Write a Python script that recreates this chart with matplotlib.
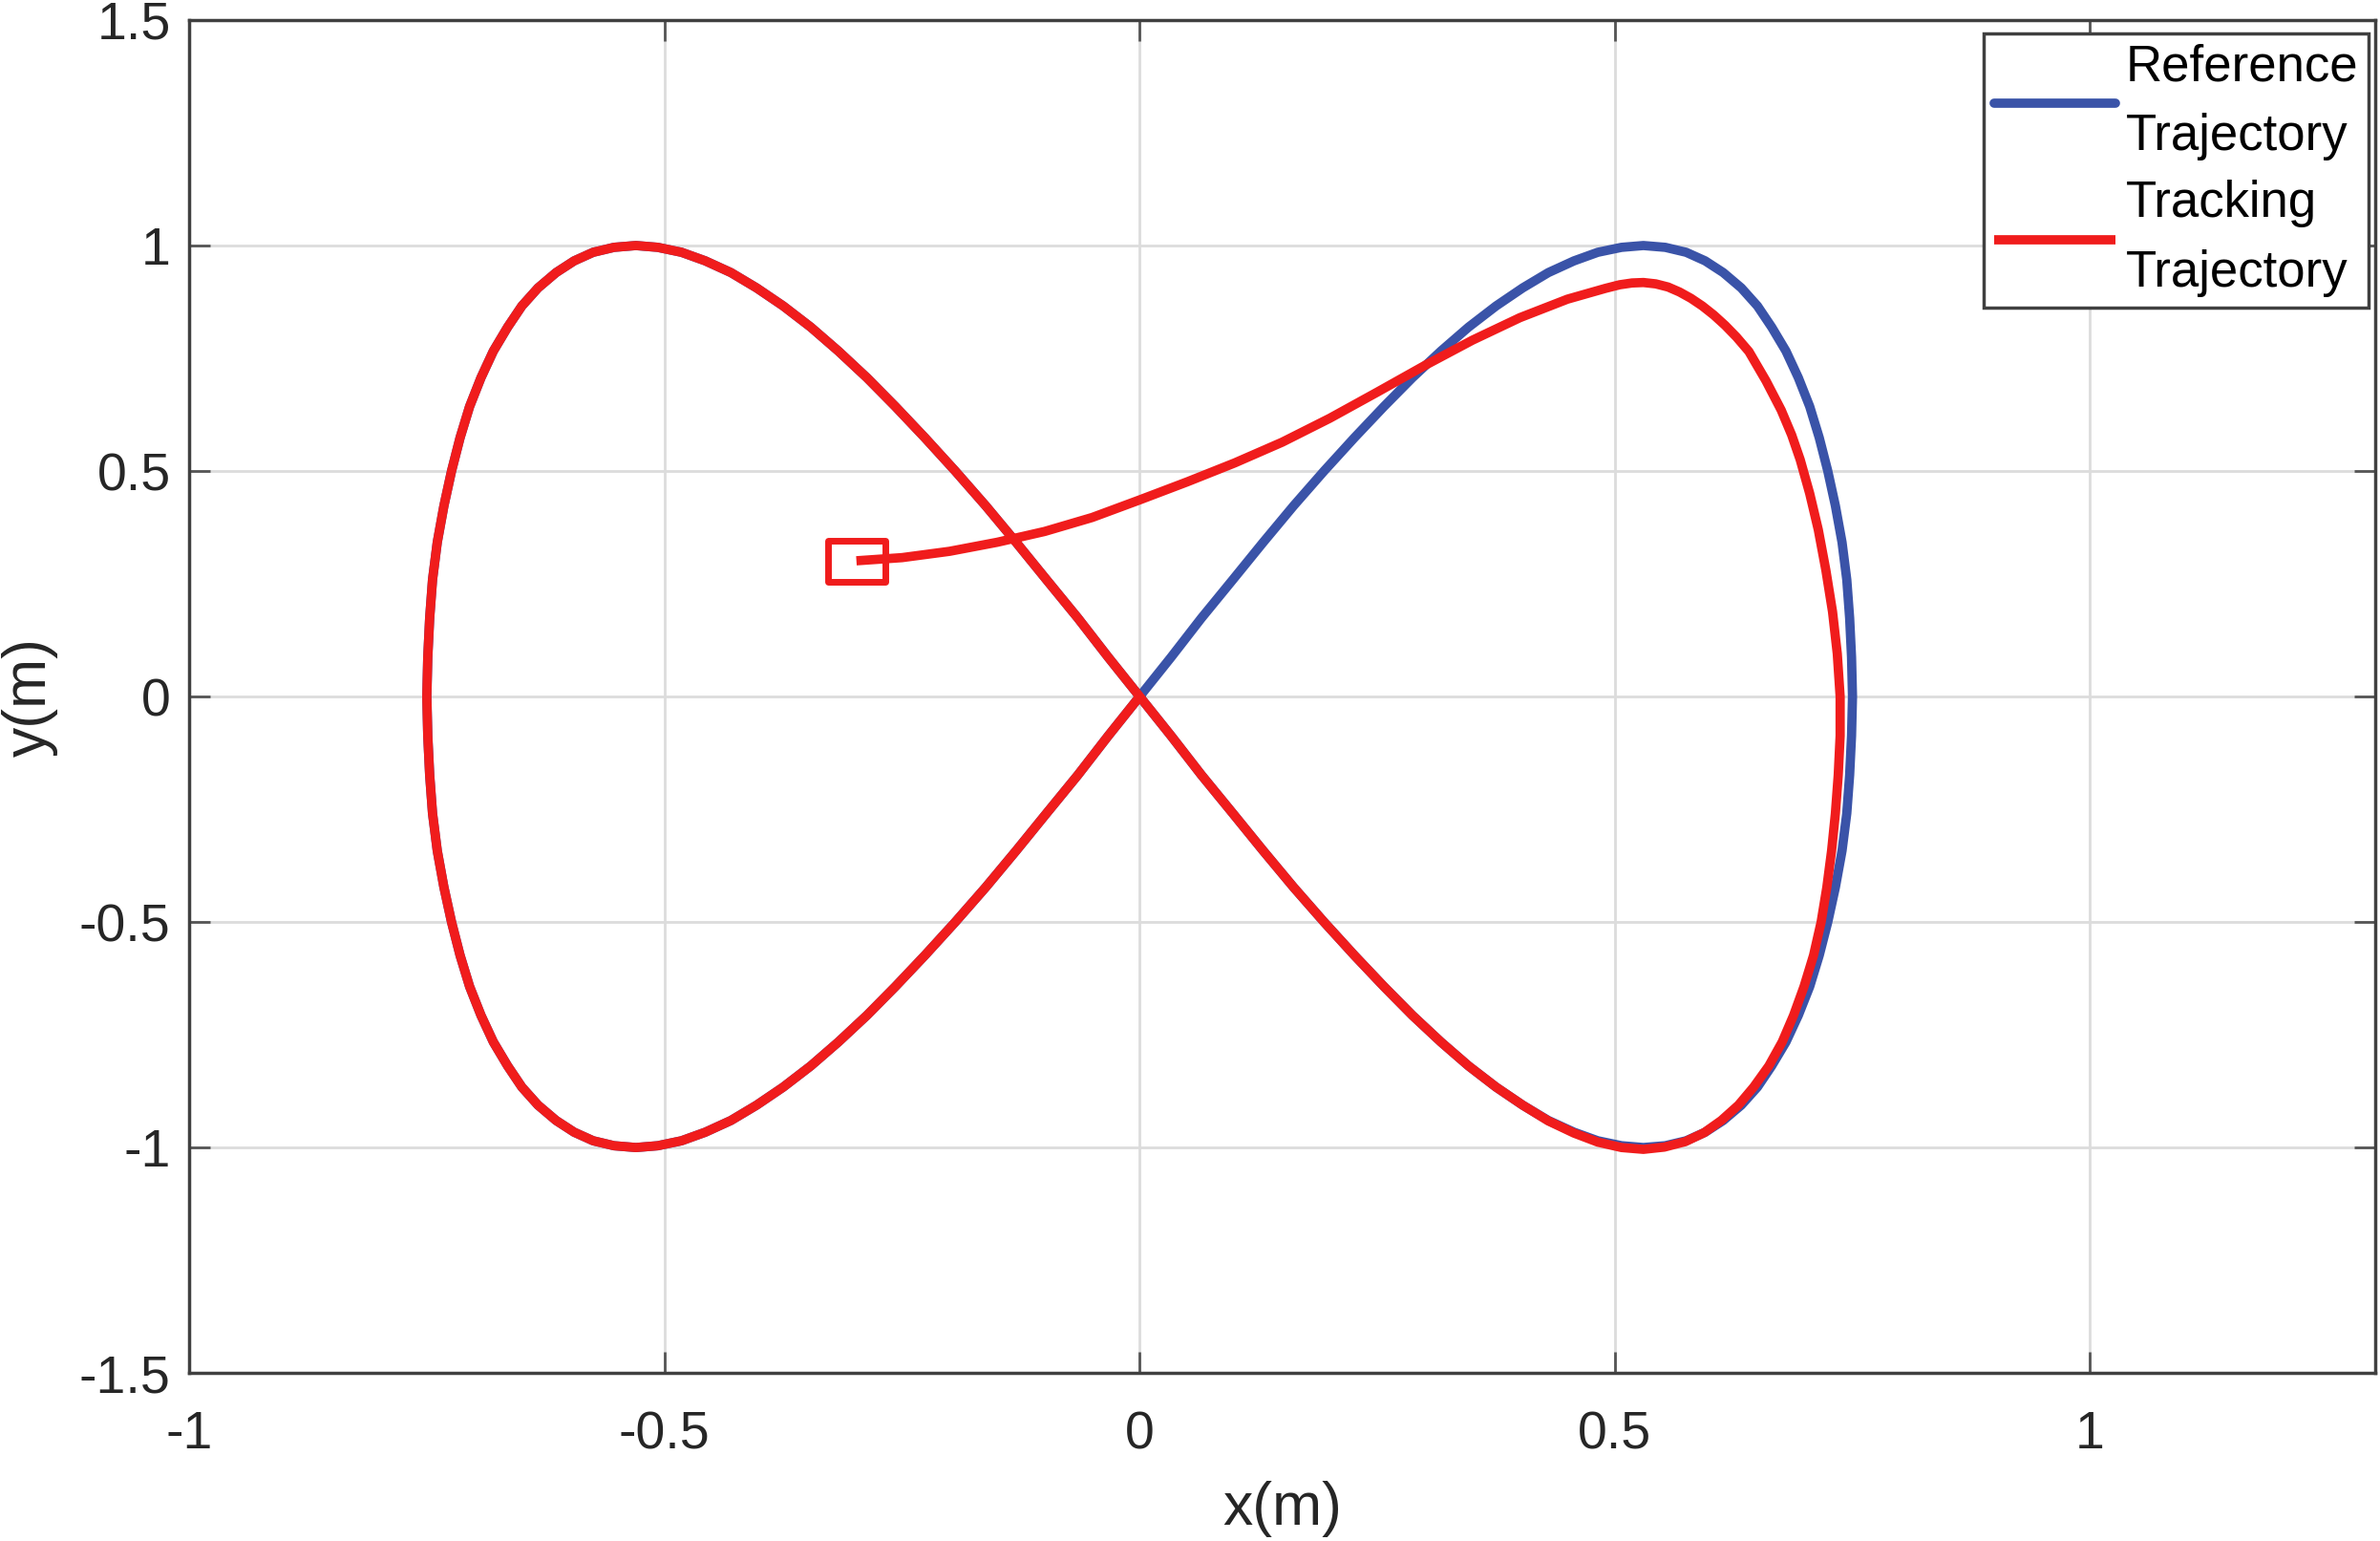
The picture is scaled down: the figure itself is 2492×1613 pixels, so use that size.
#!/usr/bin/env python3
"""figure_eight_tracking.py"""

import matplotlib.pyplot as plt
from matplotlib.path import Path
from matplotlib.ticker import FixedLocator

# Reference figure-eight (metres)
ref_x = [
    0.000, 0.033, 0.065, 0.098, 0.130, 0.162, 0.194, 0.226, 0.257, 0.287,
    0.317, 0.346, 0.375, 0.403, 0.430, 0.457, 0.482, 0.507, 0.530, 0.553,
    0.575, 0.595, 0.614, 0.633, 0.650, 0.665, 0.680, 0.693, 0.705, 0.715,
    0.724, 0.732, 0.739, 0.744, 0.747, 0.749, 0.750,
    0.749, 0.747, 0.744, 0.739, 0.732, 0.724, 0.715, 0.705, 0.693, 0.680,
    0.665, 0.650, 0.633, 0.614, 0.595, 0.575, 0.553, 0.530, 0.507, 0.482,
    0.457, 0.430, 0.403, 0.375, 0.346, 0.317, 0.287, 0.257, 0.226, 0.194,
    0.162, 0.130, 0.098, 0.065, 0.033, 0.000,
    -0.033, -0.065, -0.098, -0.130, -0.162, -0.194, -0.226, -0.257, -0.287,
    -0.317, -0.346, -0.375, -0.403, -0.430, -0.457, -0.482, -0.507, -0.530,
    -0.553, -0.575, -0.595, -0.614, -0.633, -0.650, -0.665, -0.680, -0.693,
    -0.705, -0.715, -0.724, -0.732, -0.739, -0.744, -0.747, -0.749, -0.750,
    -0.749, -0.747, -0.744, -0.739, -0.732, -0.724, -0.715, -0.705, -0.693,
    -0.680, -0.665, -0.650, -0.633, -0.614, -0.595, -0.575, -0.553, -0.530,
    -0.507, -0.482, -0.457, -0.430, -0.403, -0.375, -0.346, -0.317, -0.287,
    -0.257, -0.226, -0.194, -0.162, -0.130, -0.098, -0.065, -0.033, 0.000]
ref_y = [
    0.000, 0.087, 0.174, 0.259, 0.342, 0.423, 0.500, 0.574, 0.643, 0.707,
    0.766, 0.819, 0.866, 0.906, 0.940, 0.966, 0.985, 0.996, 1.000, 0.996,
    0.985, 0.966, 0.940, 0.906, 0.866, 0.819, 0.766, 0.707, 0.643, 0.574,
    0.500, 0.423, 0.342, 0.259, 0.174, 0.087, 0.000,
    -0.087, -0.174, -0.259, -0.342, -0.423, -0.500, -0.574, -0.643, -0.707,
    -0.766, -0.819, -0.866, -0.906, -0.940, -0.966, -0.985, -0.996, -1.000,
    -0.996, -0.985, -0.966, -0.940, -0.906, -0.866, -0.819, -0.766, -0.707,
    -0.643, -0.574, -0.500, -0.423, -0.342, -0.259, -0.174, -0.087, 0.000,
    0.087, 0.174, 0.259, 0.342, 0.423, 0.500, 0.574, 0.643, 0.707,
    0.766, 0.819, 0.866, 0.906, 0.940, 0.966, 0.985, 0.996, 1.000,
    0.996, 0.985, 0.966, 0.940, 0.906, 0.866, 0.819, 0.766, 0.707,
    0.643, 0.574, 0.500, 0.423, 0.342, 0.259, 0.174, 0.087, 0.000,
    -0.087, -0.174, -0.259, -0.342, -0.423, -0.500, -0.574, -0.643, -0.707,
    -0.766, -0.819, -0.866, -0.906, -0.940, -0.966, -0.985, -0.996, -1.000,
    -0.996, -0.985, -0.966, -0.940, -0.906, -0.866, -0.819, -0.766, -0.707,
    -0.643, -0.574, -0.500, -0.423, -0.342, -0.259, -0.174, -0.087, 0.000]

# Tracking trajectory, starts off the path at (-0.3, 0.3) and converges
track_x = [
    -0.298, -0.250, -0.200, -0.150, -0.100, -0.050, 0.000, 0.050, 0.100,
    0.150, 0.200, 0.250, 0.300, 0.350, 0.400, 0.450, 0.490, 0.505, 0.518,
    0.530, 0.543, 0.556, 0.568, 0.580, 0.592, 0.604, 0.616, 0.628, 0.641,
    0.659, 0.675, 0.686, 0.695, 0.705, 0.714, 0.722, 0.729, 0.734, 0.737,
    0.737, 0.735, 0.732, 0.728, 0.723, 0.717, 0.709, 0.699, 0.688, 0.676,
    0.662, 0.646, 0.630, 0.612, 0.594, 0.574, 0.552, 0.530, 0.507, 0.482,
    0.457, 0.430, 0.403,
    0.375, 0.346, 0.317, 0.287, 0.257, 0.226, 0.194, 0.162, 0.130, 0.098,
    0.065, 0.033, 0.000,
    -0.033, -0.065, -0.098, -0.130, -0.162, -0.194, -0.226, -0.257, -0.287,
    -0.317, -0.346, -0.375, -0.403, -0.430, -0.457, -0.482, -0.507, -0.530,
    -0.553, -0.575, -0.595, -0.614, -0.633, -0.650, -0.665, -0.680, -0.693,
    -0.705, -0.715, -0.724, -0.732, -0.739, -0.744, -0.747, -0.749, -0.750,
    -0.749, -0.747, -0.744, -0.739, -0.732, -0.724, -0.715, -0.705, -0.693,
    -0.680, -0.665, -0.650, -0.633, -0.614, -0.595, -0.575, -0.553, -0.530,
    -0.507, -0.482, -0.457, -0.430, -0.403, -0.375, -0.346, -0.317, -0.287,
    -0.257, -0.226, -0.194, -0.162, -0.130, -0.098, -0.065, -0.033, 0.000]
track_y = [
    0.301, 0.308, 0.322, 0.342, 0.366, 0.397, 0.436, 0.476, 0.518,
    0.564, 0.617, 0.675, 0.734, 0.790, 0.840, 0.881, 0.905, 0.913, 0.917,
    0.918, 0.915, 0.908, 0.897, 0.883, 0.866, 0.846, 0.823, 0.797, 0.765,
    0.700, 0.635, 0.580, 0.525, 0.450, 0.370, 0.280, 0.188, 0.095, 0.000,
    -0.087, -0.174, -0.259, -0.342, -0.423, -0.500, -0.574, -0.643, -0.707,
    -0.766, -0.819, -0.866, -0.906, -0.940, -0.967, -0.987, -0.999, -1.004,
    -1.000, -0.988, -0.968, -0.941, -0.906,
    -0.866, -0.819, -0.766, -0.707, -0.643, -0.574, -0.500, -0.423, -0.342,
    -0.259, -0.174, -0.087, 0.000,
    0.087, 0.174, 0.259, 0.342, 0.423, 0.500, 0.574, 0.643, 0.707,
    0.766, 0.819, 0.866, 0.906, 0.940, 0.966, 0.985, 0.996, 1.000,
    0.996, 0.985, 0.966, 0.940, 0.906, 0.866, 0.819, 0.766, 0.707,
    0.643, 0.574, 0.500, 0.423, 0.342, 0.259, 0.174, 0.087, 0.000,
    -0.087, -0.174, -0.259, -0.342, -0.423, -0.500, -0.574, -0.643, -0.707,
    -0.766, -0.819, -0.866, -0.906, -0.940, -0.966, -0.985, -0.996, -1.000,
    -0.996, -0.985, -0.966, -0.940, -0.906, -0.866, -0.819, -0.766, -0.707,
    -0.643, -0.574, -0.500, -0.423, -0.342, -0.259, -0.174, -0.087, 0.000]

x_ticks = [-1, -0.5, 0, 0.5, 1]
x_tick_labels = ["-1", "-0.5", "0", "0.5", "1"]
y_ticks = [-1.5, -1, -0.5, 0, 0.5, 1, 1.5]
y_tick_labels = ["-1.5", "-1", "-0.5", "0", "0.5", "1", "1.5"]
series_labels = ["Reference\nTrajectory", "Tracking\nTrajectory"]


def plot(ax):
    ax.plot(ref_x, ref_y, color="#3a53a8", lw=7, label=series_labels[0],
            solid_joinstyle="round", solid_capstyle="round", zorder=3)
    ax.plot(track_x, track_y, color="#f01c1c", lw=7, label=series_labels[1],
            solid_joinstyle="round", solid_capstyle="butt", zorder=4)
    # start point of the tracker, drawn as a stretched square
    rect = Path([(-1, -0.72), (1, -0.72), (1, 0.72), (-1, 0.72), (-1, -0.72)],
                [Path.MOVETO, Path.LINETO, Path.LINETO, Path.LINETO,
                 Path.CLOSEPOLY])
    ax.plot(track_x[0], track_y[0], marker=rect, ms=43, mfc="none",
            mec="#f01c1c", mew=5, ls="none", zorder=5)

    ax.set_xlim(-1, 1.3)
    ax.set_ylim(-1.5, 1.5)
    ax.xaxis.set_major_locator(FixedLocator(x_ticks))
    ax.yaxis.set_major_locator(FixedLocator(y_ticks))
    ax.set_xticklabels(x_tick_labels)
    ax.set_yticklabels(y_tick_labels)
    ax.tick_params(direction="in", length=16, width=2, color="#555555",
                   labelsize=40, labelcolor="#262626", top=True, right=True)
    ax.tick_params(axis="x", pad=28)
    ax.tick_params(axis="y", pad=14)
    ax.grid(True, color="#dcdcdc", lw=2)
    ax.set_axisbelow(True)
    for s in ax.spines.values():
        s.set_color("#404040")
        s.set_linewidth(2.5)

    ax.set_xlabel("x(m)", fontsize=45, color="#262626", labelpad=16)
    ax.set_ylabel("y(m)", fontsize=45, color="#262626", labelpad=16)

    leg = ax.legend(loc="upper right", bbox_to_anchor=(0.9969, 0.990),
                    borderaxespad=0, fontsize=38, fancybox=False,
                    edgecolor="#404040", framealpha=1, handlelength=2.4,
                    handletextpad=0.21, labelspacing=0.38, borderpad=0.2)
    leg.get_frame().set_linewidth(2.5)
    for t in leg.get_texts():
        t.set_linespacing(1.58)


def main():
    plt.rcParams["font.family"] = ["Liberation Sans", "DejaVu Sans"]
    fig = plt.figure(figsize=(24.92, 16.13), dpi=100)
    ax = fig.add_axes([0.0795, 0.109, 0.9185, 0.878])
    plot(ax)
    fig.savefig("out.png", dpi=100)


if __name__ == "__main__":
    main()
